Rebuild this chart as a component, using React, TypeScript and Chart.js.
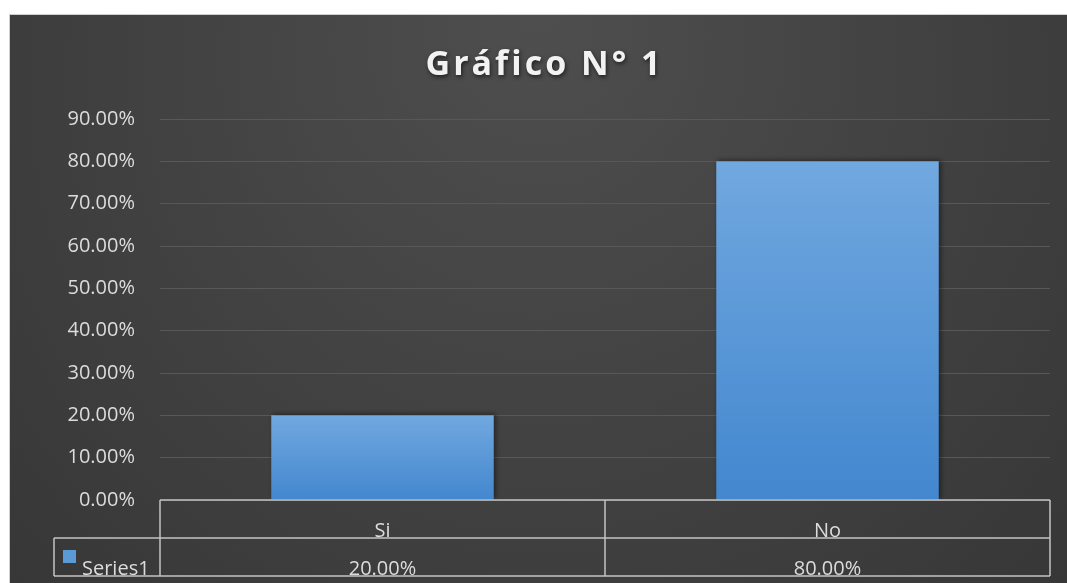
import React, { useEffect, useRef } from "react";
import { Chart, registerables } from "chart.js";
Chart.register(...registerables);

const categories: string[] = ["Si", "No"];
const seriesName = "Series1";
const seriesValues: number[] = [20, 80];
const titleText = "Gráfico N° 1";
const yMin = 0;
const yMax = 90;
const yStep = 10;

const FONT = "'Open Sans', sans-serif";
const TEXT = "#dcdcdc";
const GRID = "#585858";
const LINE = "#c4c4c4";

const fmt = (v: number) => v.toFixed(2) + "%";

const bgPlugin = {
  id: "bg",
  beforeDraw(chart: any) {
    const { ctx, width, height } = chart;
    ctx.save();
    const g = ctx.createRadialGradient(width * 0.5, 0, 10, width * 0.5, height * 0.2, width * 0.75);
    g.addColorStop(0, "#4e4e4e");
    g.addColorStop(1, "#343434");
    ctx.fillStyle = g;
    ctx.fillRect(0, 0, width, height);
    ctx.restore();
  },
};

const titlePlugin = {
  id: "customTitle",
  afterDraw(chart: any) {
    const { ctx, width } = chart;
    ctx.save();
    ctx.font = `bold 34px ${FONT}`;
    (ctx as any).letterSpacing = "3px";
    ctx.textAlign = "center";
    ctx.textBaseline = "alphabetic";
    ctx.shadowColor = "rgba(0,0,0,0.6)";
    ctx.shadowBlur = 4;
    ctx.shadowOffsetX = 1;
    ctx.shadowOffsetY = 2;
    ctx.fillStyle = "#f2f2f2";
    ctx.fillText(titleText, width / 2 + 6, 60);
    ctx.restore();
  },
};

const shadowPlugin = {
  id: "barShadow",
  beforeDatasetsDraw(chart: any) {
    const ctx = chart.ctx;
    ctx.save();
    ctx.shadowColor = "rgba(0,0,0,0.45)";
    ctx.shadowBlur = 5;
    ctx.shadowOffsetX = 2;
    ctx.shadowOffsetY = -1;
  },
  afterDatasetsDraw(chart: any) {
    chart.ctx.restore();
  },
};

const tablePlugin = {
  id: "dataTable",
  afterDraw(chart: any) {
    const { ctx, chartArea } = chart;
    const xs = chart.scales.x;
    const { left, right, bottom } = chartArea;
    const rowH = 38;
    const legendW = 106;
    const r1 = bottom + rowH;
    const r2 = bottom + rowH * 2;
    ctx.save();
    ctx.strokeStyle = LINE;
    ctx.lineWidth = 1.5;
    ctx.beginPath();
    ctx.moveTo(left, bottom);
    ctx.lineTo(right, bottom);
    ctx.moveTo(left - legendW, r1);
    ctx.lineTo(right, r1);
    ctx.moveTo(left - legendW, r2);
    ctx.lineTo(right, r2);
    ctx.moveTo(left - legendW, r1);
    ctx.lineTo(left - legendW, r2);
    const bounds: number[] = [left];
    for (let i = 0; i < categories.length - 1; i++) {
      bounds.push((xs.getPixelForValue(i) + xs.getPixelForValue(i + 1)) / 2);
    }
    bounds.push(right);
    bounds.forEach((bx) => {
      ctx.moveTo(bx, bottom);
      ctx.lineTo(bx, r2);
    });
    ctx.stroke();

    ctx.fillStyle = TEXT;
    ctx.font = `20px ${FONT}`;
    ctx.textBaseline = "alphabetic";
    ctx.textAlign = "center";
    categories.forEach((c, i) => {
      const cx = xs.getPixelForValue(i);
      ctx.fillText(c, cx, r1 - 1);
      ctx.fillText(fmt(seriesValues[i]), cx, r2 - 1);
    });
    ctx.textAlign = "left";
    ctx.fillText(seriesName, left - legendW + 28, r2 - 1);
    ctx.fillStyle = "#5b9bd5";
    ctx.fillRect(left - legendW + 9, r1 + 12, 13, 13);
    ctx.restore();
  },
};

export default function App() {
  const ref = useRef<HTMLCanvasElement | null>(null);
  useEffect(() => {
    if (!ref.current) return;
    const chart = new Chart(ref.current, {
      type: "bar",
      data: {
        labels: categories,
        datasets: [
          {
            label: seriesName,
            data: seriesValues,
            categoryPercentage: 1,
            barPercentage: 0.5,
            borderWidth: 0,
            backgroundColor: (c: any) => {
              const chart = c.chart;
              const v = c.raw;
              if (!chart.chartArea || typeof v !== "number") return "#5b9bd5";
              const ys = chart.scales.y;
              const top = ys.getPixelForValue(v);
              const base = ys.getPixelForValue(0);
              const g = chart.ctx.createLinearGradient(0, top, 0, base);
              g.addColorStop(0, "#71a8df");
              g.addColorStop(1, "#4387cf");
              return g;
            },
          },
        ],
      },
      options: {
        animation: false,
        responsive: true,
        maintainAspectRatio: false,
        layout: { padding: { top: 104, right: 17, bottom: 83, left: 0 } },
        plugins: {
          legend: { display: false },
          title: { display: false },
          tooltip: { enabled: false },
        },
        scales: {
          x: { display: false },
          y: {
            min: yMin,
            max: yMax,
            afterFit: (s: any) => {
              s.width = 150;
            },
            border: { display: false },
            grid: { color: GRID, lineWidth: 1, drawTicks: false },
            ticks: {
              stepSize: yStep,
              padding: 25,
              color: TEXT,
              font: { family: FONT, size: 20 },
              callback: (v: any) => fmt(Number(v)),
            },
          },
        },
      },
      plugins: [bgPlugin, shadowPlugin, tablePlugin, titlePlugin],
    });
    return () => chart.destroy();
  }, []);
  return (
    <div
      style={{
        position: "fixed",
        left: 9,
        top: 14,
        width: 1058,
        height: 569,
        boxSizing: "border-box",
        borderTop: "1px solid #cfcfcf",
        borderLeft: "1px solid #cfcfcf",
      }}
    >
      <div style={{ position: "relative", width: "100%", height: "100%" }}>
        <canvas ref={ref} />
      </div>
    </div>
  );
}
